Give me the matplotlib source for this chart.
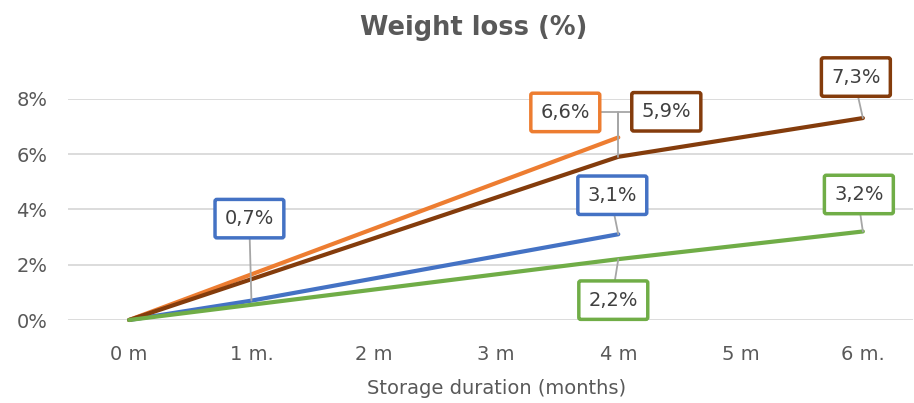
import numpy as np
import matplotlib
matplotlib.use("Agg")
import matplotlib.pyplot as plt

plt.rcParams['font.family'] = ['DejaVu Sans']

# data (percent), NaN = no point for that month
months = ["0 m", "1 m.", "2 m", "3 m", "4 m", "5 m", "6 m."]
orange = [0, np.nan, np.nan, np.nan, 6.6, np.nan, np.nan]
brown = [0, np.nan, np.nan, np.nan, 5.9, np.nan, 7.3]
blue = [0, 0.7, np.nan, np.nan, 3.1, np.nan, np.nan]
green = [0, np.nan, np.nan, np.nan, 2.2, np.nan, 3.2]
yticks = [0, 2, 4, 6, 8]

c_orange = "#ED7D31"
c_brown = "#843C0C"
c_blue = "#4472C4"
c_green = "#70AD47"
txt = "#595959"

fig = plt.figure(figsize=(9.14, 4.03), dpi=100)
W, H = 914, 403
ax = fig.add_axes([68 / W, 1 - 320 / H, (913 - 68) / W, (320 - 98.7) / H])

x = np.arange(len(months))

def draw(vals, color):
    v = np.array(vals, dtype=float)
    m = ~np.isnan(v)
    ax.plot(x[m], v[m], color=color, lw=3, solid_capstyle='round', clip_on=False, zorder=3)

draw(blue, c_blue)
draw(orange, c_orange)
draw(brown, c_brown)
draw(green, c_green)

ax.set_xlim(-0.5, 6.41)
ax.set_ylim(0, 8)
ax.set_yticks(yticks)
ax.set_yticklabels([f"{t}%" for t in yticks])
ax.set_xticks(x)
ax.set_xticklabels(months)
ax.tick_params(length=0, labelsize=14, labelcolor=txt)
ax.tick_params(axis='x', pad=18)
ax.tick_params(axis='y', pad=15)
ax.grid(axis='y', color="#D9D9D9", lw=1.3)
ax.set_axisbelow(True)
for s in ax.spines.values():
    s.set_visible(False)

fig.text(497 / W, 1 - 388 / H, "Storage duration (months)", ha='center', va='center',
         fontsize=14, color=txt)
fig.text(474 / W, 1 - 28 / H, "Weight loss (%)", ha='center', va='center',
         fontsize=18.5, fontweight='bold', color=txt)

def label(i, vals, color, dx, dy, relpos, conn="arc3"):
    v = vals[i]
    s = f"{v:.1f}%".replace(".", ",")
    ax.annotate(s, xy=(i, v), xytext=(dx, dy), textcoords='offset pixels',
                ha='center', va='center', fontsize=14, color="#404040",
                bbox=dict(boxstyle='round,pad=0.5,rounding_size=0.1', fc='white', ec=color, lw=2.5),
                arrowprops=dict(arrowstyle='-', color='#A6A6A6', lw=1.3, shrinkA=0, shrinkB=0,
                                relpos=relpos, connectionstyle=conn),
                annotation_clip=False, zorder=5)

label(1, blue, c_blue, -2, 82, (0.5, 0))
label(4, orange, c_orange, -53, 25, (1, 0.5), "angle,angleA=0,angleB=90,rad=0")
label(4, brown, c_brown, 48, 45, (0, 0.5), "angle,angleA=0,angleB=90,rad=0")
label(4, blue, c_blue, -6, 39, (0.5, 0))
label(4, green, c_green, -5, -41, (0.5, 1))
label(6, brown, c_brown, -7, 41, (0.5, 0))
label(6, green, c_green, -4, 37, (0.5, 0))

fig.savefig("out.png", dpi=100)
